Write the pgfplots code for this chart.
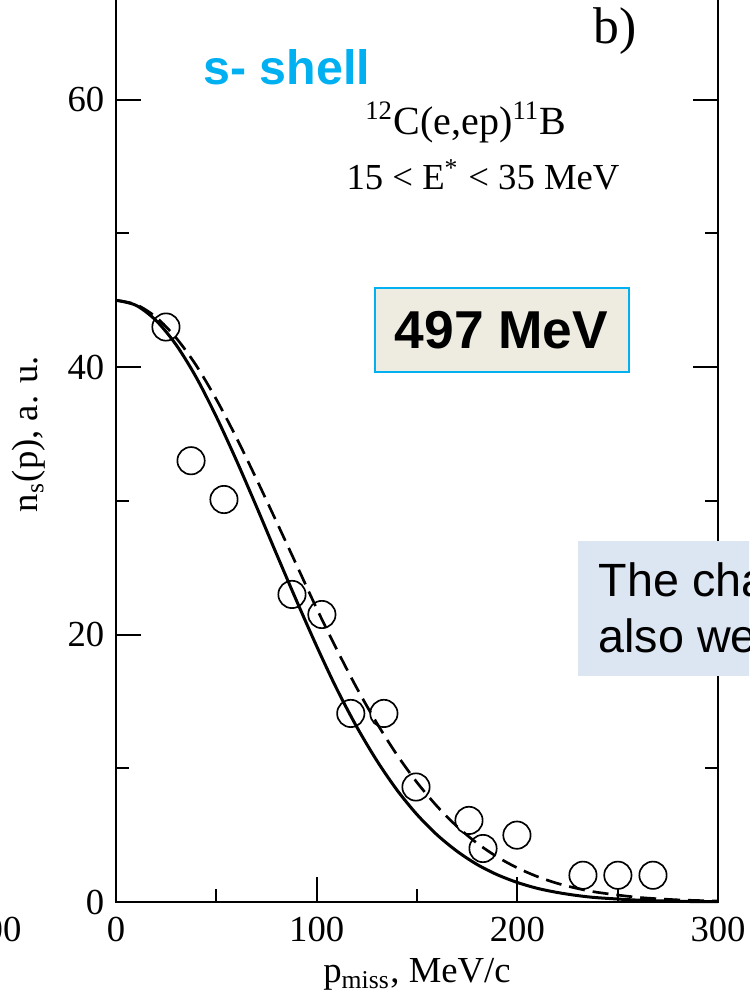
\documentclass[border=0pt]{standalone}
\usepackage{pgfplots}
\pgfplotsset{compat=1.18}
\usepackage{fontspec}
\setmainfont{Liberation Serif}
\newfontfamily\arial{Liberation Sans}
\definecolor{cyanppt}{RGB}{0,176,240}
\definecolor{beige}{RGB}{238,236,225}
\definecolor{lightblue}{RGB}{220,230,242}
\begin{document}
\begin{tikzpicture}
\clip (0,0) rectangle (224.7pt,298.8pt);
\begin{axis}[
  at={(34.8pt,28.2pt)}, anchor=south west,
  scale only axis, width=180.6pt, height=280.8pt,
  xmin=0, xmax=300, ymin=0, ymax=70,
  xtick={0,100,200,300}, ytick={0,20,40,60},
  minor x tick num=1, minor y tick num=1,
  tick align=inside,
  major tick length=7.5pt, minor tick length=3.8pt,
  axis line style={line width=0.6pt},
  every tick/.append style={line width=0.6pt, black},
  tick label style={font=\fontsize{11}{13}\selectfont},
  xticklabel style={yshift=-1pt},
  /pgf/number format/assume math mode=true,
  xlabel={p\textsubscript{miss}, MeV/c},
  ylabel={n\textsubscript{s}(p), a. u.},
  label style={font=\fontsize{11}{13}\selectfont},
  xlabel style={at={(axis description cs:0.5,-0.0865)}, anchor=base},
  ylabel style={at={(axis description cs:-0.1296,0.5)}, anchor=base},
  clip=false,
]
\addplot[black, line width=0.9pt, no marks, smooth] coordinates {
(0,45) (10,44.62) (20,43.48) (30,41.66) (40,39.23) (50,36.29) (60,33.03)
(70,29.57) (80,26.02) (90,22.52) (100,19.13) (110,15.94) (120,13.09)
(130,10.57) (140,8.38) (150,6.54) (160,5.02) (170,3.79) (180,2.80)
(190,2.04) (200,1.46) (210,1.02) (220,0.71) (230,0.48) (240,0.32)
(260,0.14) (280,0.05) (300,0.02)};
\addplot[black, line width=0.8pt, no marks, smooth, dash pattern=on 4.8pt off 2.4pt] coordinates {
(0,45) (10,44.68) (20,43.73) (30,42.18) (40,40.12) (50,37.59) (60,34.73)
(70,31.63) (80,28.43) (90,25.20) (100,21.95) (110,18.89) (120,16.00)
(130,13.37) (140,11.01) (150,8.94) (160,7.16) (170,5.64) (180,4.39)
(190,3.37) (200,2.55) (210,1.90) (220,1.39) (230,1.01) (240,0.72)
(260,0.35) (280,0.16) (300,0.07)};
\addplot[black, only marks, mark=o, mark size=4.1pt, mark options={line width=0.5pt}] coordinates {
(24.9,43.0) (37.4,33.0) (53.8,30.1) (87.7,23.0) (102.6,21.5) (117,14.1)
(133.5,14.1) (149.5,8.6) (175.9,6.1) (182.9,4.0) (199.8,5.0)
(232.7,2.0) (250.1,2.0) (267.6,2.0)};
\node[font=\fontsize{15.5}{17}\selectfont, inner sep=0] at (axis cs:248.6,65.1) {b)};
\node[font=\arial\bfseries\fontsize{14.5}{16}\selectfont, text=cyanppt, anchor=base west, inner sep=0] at (axis cs:43.3,61.1) {s- shell};
\node[font=\fontsize{12}{14}\selectfont, anchor=base, inner sep=0] at (axis cs:174.4,57.4) {\textsuperscript{12}C(e,ep)\textsuperscript{11}B};
\node[font=\fontsize{11}{13}\selectfont, anchor=base, inner sep=0] at (axis cs:182.9,53.3) {15 < E\textsuperscript{*} < 35 MeV};
\end{axis}
\node[draw=cyanppt, fill=beige, line width=0.6pt, minimum width=76.2pt, minimum height=25pt, inner sep=0, font=\arial\bfseries\fontsize{16}{18}\selectfont] at (150.45pt,199.8pt) {497 MeV};
\fill[lightblue] (173.4pt,96pt) rectangle (230pt,136.5pt);
\node[anchor=base west, inner sep=0, font=\arial\fontsize{14}{16.8}\selectfont] at (179.4pt,119.7pt) {The cha};
\node[anchor=base west, inner sep=0, font=\arial\fontsize{14}{16.8}\selectfont] at (179.4pt,102.9pt) {also we};
\node[anchor=base east, inner sep=0, font=\fontsize{11}{13}\selectfont] at (6.6pt,16.2pt) {300};
\end{tikzpicture}
\end{document}
